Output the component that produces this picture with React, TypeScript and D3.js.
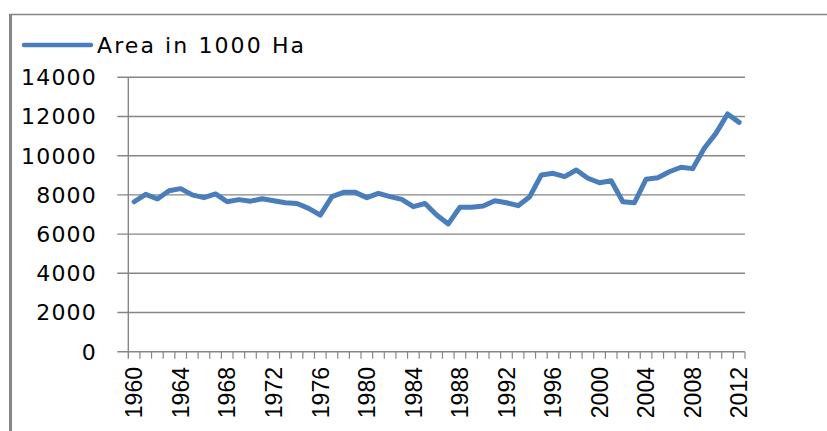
import React from 'react';
import * as d3 from 'd3';

// years 1960..2012
const years = [
  1960, 1961, 1962, 1963, 1964, 1965, 1966, 1967, 1968, 1969,
  1970, 1971, 1972, 1973, 1974, 1975, 1976, 1977, 1978, 1979,
  1980, 1981, 1982, 1983, 1984, 1985, 1986, 1987, 1988, 1989,
  1990, 1991, 1992, 1993, 1994, 1995, 1996, 1997, 1998, 1999,
  2000, 2001, 2002, 2003, 2004, 2005, 2006, 2007, 2008, 2009,
  2010, 2011, 2012,
];

// Area in 1000 Ha
const area = [
  7650, 8030, 7790, 8210, 8320, 8000, 7860, 8050, 7650, 7760,
  7680, 7800, 7700, 7600, 7560, 7310, 6970, 7910, 8130, 8130,
  7860, 8080, 7910, 7770, 7400, 7560, 6970, 6520, 7370, 7370,
  7430, 7700, 7600, 7450, 7910, 9020, 9100, 8930, 9270, 8850,
  8620, 8720, 7650, 7600, 8800, 8880, 9180, 9410, 9340, 10380,
  11140, 12130, 11700,
];

const yTicks = [0, 2000, 4000, 6000, 8000, 10000, 12000, 14000];
const labelYears = [1960, 1964, 1968, 1972, 1976, 1980, 1984, 1988, 1992, 1996, 2000, 2004, 2008, 2012];
const seriesName = 'Area in 1000 Ha';

const W = 827;
const H = 431;
const left = 128.3;
const right = 745;
const top = 77.3;
const bottom = 351.7;
const blue = '#4a7ebb';
const grid = '#868686';

export default function App() {
  const x = d3.scaleBand<number>().domain(years).range([left, right]).padding(0);
  const y = d3.scaleLinear().domain([0, 14000]).range([bottom, top]);
  const line = d3
    .line<number>()
    .x((_, i) => x(years[i])! + x.bandwidth() / 2)
    .y((d) => y(d));

  return (
    <svg
      width={W}
      height={H}
      style={{ position: 'absolute', left: 0, top: 0, background: '#fff' }}
    >
      {/* outer frame */}
      <line x1={10} y1={14.5} x2={W} y2={14.5} stroke={grid} strokeWidth={1.5} />
      <line x1={10.5} y1={14} x2={10.5} y2={H} stroke={grid} strokeWidth={3} />

      {/* legend */}
      <line x1={24} y1={45} x2={91} y2={45} stroke={blue} strokeWidth={4.5} strokeLinecap="round" />
      <text
        x={97}
        y={53}
        fontFamily="'DejaVu Sans', Verdana, sans-serif"
        fontSize={22}
        fill="#000"
        textLength={207}
        lengthAdjust="spacing"
      >
        {seriesName}
      </text>

      {/* gridlines + y ticks */}
      {yTicks.map((t) => (
        <g key={t}>
          <line x1={left - 11} x2={right} y1={y(t)} y2={y(t)} stroke={grid} strokeWidth={1.4} />
          <text
            x={97}
            y={y(t)}
            dy="0.36em"
            textAnchor="end"
            fontFamily="'DejaVu Sans', Verdana, sans-serif"
            fontSize={22}
            letterSpacing={1.2}
            fill="#000"
          >
            {t}
          </text>
        </g>
      ))}

      {/* y axis */}
      <line x1={left} x2={left} y1={top} y2={bottom + 7} stroke={grid} strokeWidth={1.4} />

      {/* x ticks between categories */}
      {years.map((yr) => (
        <line
          key={yr}
          x1={x(yr)! + x.bandwidth()}
          x2={x(yr)! + x.bandwidth()}
          y1={bottom}
          y2={bottom + 7}
          stroke={grid}
          strokeWidth={1.2}
        />
      ))}

      {/* x labels */}
      {labelYears.map((yr) => (
        <text
          key={yr}
          transform={`translate(${x(yr)! + x.bandwidth() / 2},367) rotate(-90)`}
          textAnchor="end"
          dy="0.36em"
          fontFamily="'Liberation Sans', Arial, sans-serif"
          fontSize={23}
          fill="#000"
        >
          {yr}
        </text>
      ))}

      {/* series */}
      <path
        d={line(area) ?? ''}
        fill="none"
        stroke={blue}
        strokeWidth={5}
        strokeLinejoin="round"
        strokeLinecap="round"
      />
    </svg>
  );
}
